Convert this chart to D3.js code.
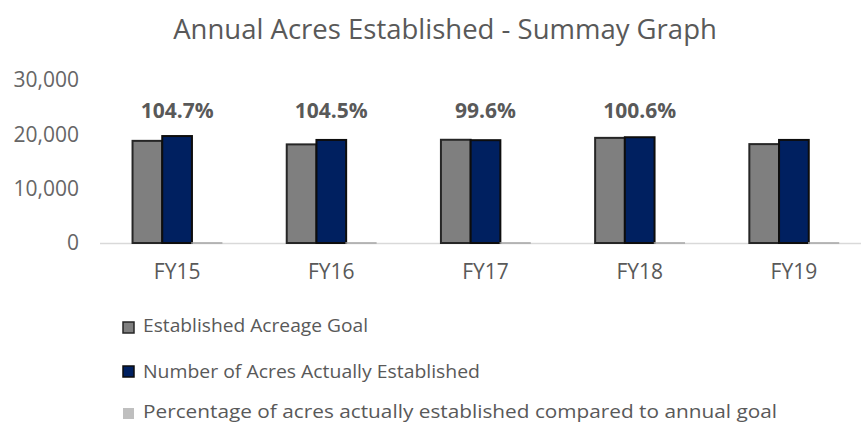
<!DOCTYPE html>
<html>
<head>
<meta charset="utf-8">
<script src="https://cdn.jsdelivr.net/npm/d3@7"></script>
<style>
  html, body { margin: 0; padding: 0; background: #fff; }
  svg { display: block; }
  text { font-family: "Open Sans", sans-serif; }
</style>
</head>
<body>
<svg id="chart" width="861" height="424"></svg>
<script>
const categories = ["FY15", "FY16", "FY17", "FY18", "FY19"];
const goalValues = [18800, 18150, 19000, 19350, 18200];
const actualValues = [19684, 18967, 18924, 19466, 18970];
const pctValues = [1.047, 1.045, 0.996, 1.006, 1.042];
const pctLabels = ["104.7%", "104.5%", "99.6%", "100.6%", ""];
const yTicks = [0, 10000, 20000, 30000];
const seriesNames = [
  "Established Acreage Goal",
  "Number of Acres Actually Established",
  "Percentage of acres actually established compared to annual goal"
];
const titleText = "Annual Acres Established - Summay Graph";

const svg = d3.select("#chart");
const fills = ["#7f7f7f", "#002060", "#bfbfbf"];
const strokes = ["#262626", "#0d0d0d", "#a6a6a6"];
const textColor = "#595959";

const x0 = d3.scaleBand().domain(categories).range([100, 871]).paddingInner(0.422).paddingOuter(0.211);
const x1 = d3.scaleBand().domain([0, 1, 2]).range([0, x0.bandwidth()]).padding(0);
const y = d3.scaleLinear().domain([0, 30000]).range([243, 80]);

const series = [goalValues, actualValues, pctValues];

// title
svg.append("text")
  .attr("x", 445).attr("y", 39)
  .attr("text-anchor", "middle")
  .attr("fill", textColor)
  .style("font-size", "27.5px")
  .text(titleText);

// y axis (labels only)
const yAxis = d3.axisLeft(y).tickValues(yTicks).tickFormat(d3.format(",")).tickSize(0).tickPadding(0);
const yg = svg.append("g").attr("transform", "translate(79,0)").call(yAxis);
yg.select(".domain").remove();
yg.selectAll("text").attr("fill", "#666666").style("font-size", "21px").style("font-family", "'Open Sans', sans-serif");

// baseline
svg.append("line")
  .attr("x1", 100).attr("x2", 861)
  .attr("y1", y(0) + 0.5).attr("y2", y(0) + 0.5)
  .attr("stroke", "#d9d9d9").attr("stroke-width", 1.5);

// bars
const groups = svg.append("g").selectAll("g")
  .data(categories)
  .join("g")
  .attr("transform", d => `translate(${x0(d)},0)`);

groups.selectAll("rect")
  .data((d, i) => series.map((s, k) => ({ k, v: s[i] })))
  .join("rect")
  .attr("x", d => x1(d.k))
  .attr("y", d => y(d.v))
  .attr("width", x1.bandwidth())
  .attr("height", d => y(0) - y(d.v))
  .attr("fill", d => fills[d.k])
  .attr("stroke", d => strokes[d.k])
  .attr("stroke-width", d => d.k === 2 ? 1.5 : 2);

// percentage labels
svg.append("g").selectAll("text")
  .data(categories)
  .join("text")
  .attr("x", d => x0(d) + x0.bandwidth() / 2)
  .attr("y", 118)
  .attr("text-anchor", "middle")
  .attr("fill", textColor)
  .style("font-size", "21px")
  .style("font-weight", "bold")
  .text((d, i) => pctLabels[i]);

// x axis labels
const xAxis = d3.axisBottom(x0).tickSize(0).tickPadding(0);
const xg = svg.append("g").attr("transform", "translate(0,264)").call(xAxis);
xg.select(".domain").remove();
xg.selectAll("text").attr("fill", textColor).style("font-size", "21px").style("font-family", "'Open Sans', sans-serif");

// legend
const legendY = [322, 366, 408];
const legendBase = [332, 378, 418];
const legendLen = [225, 337, 634];
const lg = svg.append("g").selectAll("g")
  .data(seriesNames)
  .join("g");
lg.append("rect")
  .attr("x", 123).attr("y", (d, i) => legendY[i])
  .attr("width", 11).attr("height", 11)
  .attr("fill", (d, i) => fills[i])
  .attr("stroke", (d, i) => i === 2 ? "none" : strokes[i])
  .attr("stroke-width", 1.5);
lg.append("text")
  .attr("x", 143).attr("y", (d, i) => legendBase[i])
  .attr("fill", textColor)
  .attr("textLength", (d, i) => legendLen[i])
  .attr("lengthAdjust", "spacingAndGlyphs")
  .style("font-size", "19px")
  .text(d => d);
</script>
</body>
</html>
